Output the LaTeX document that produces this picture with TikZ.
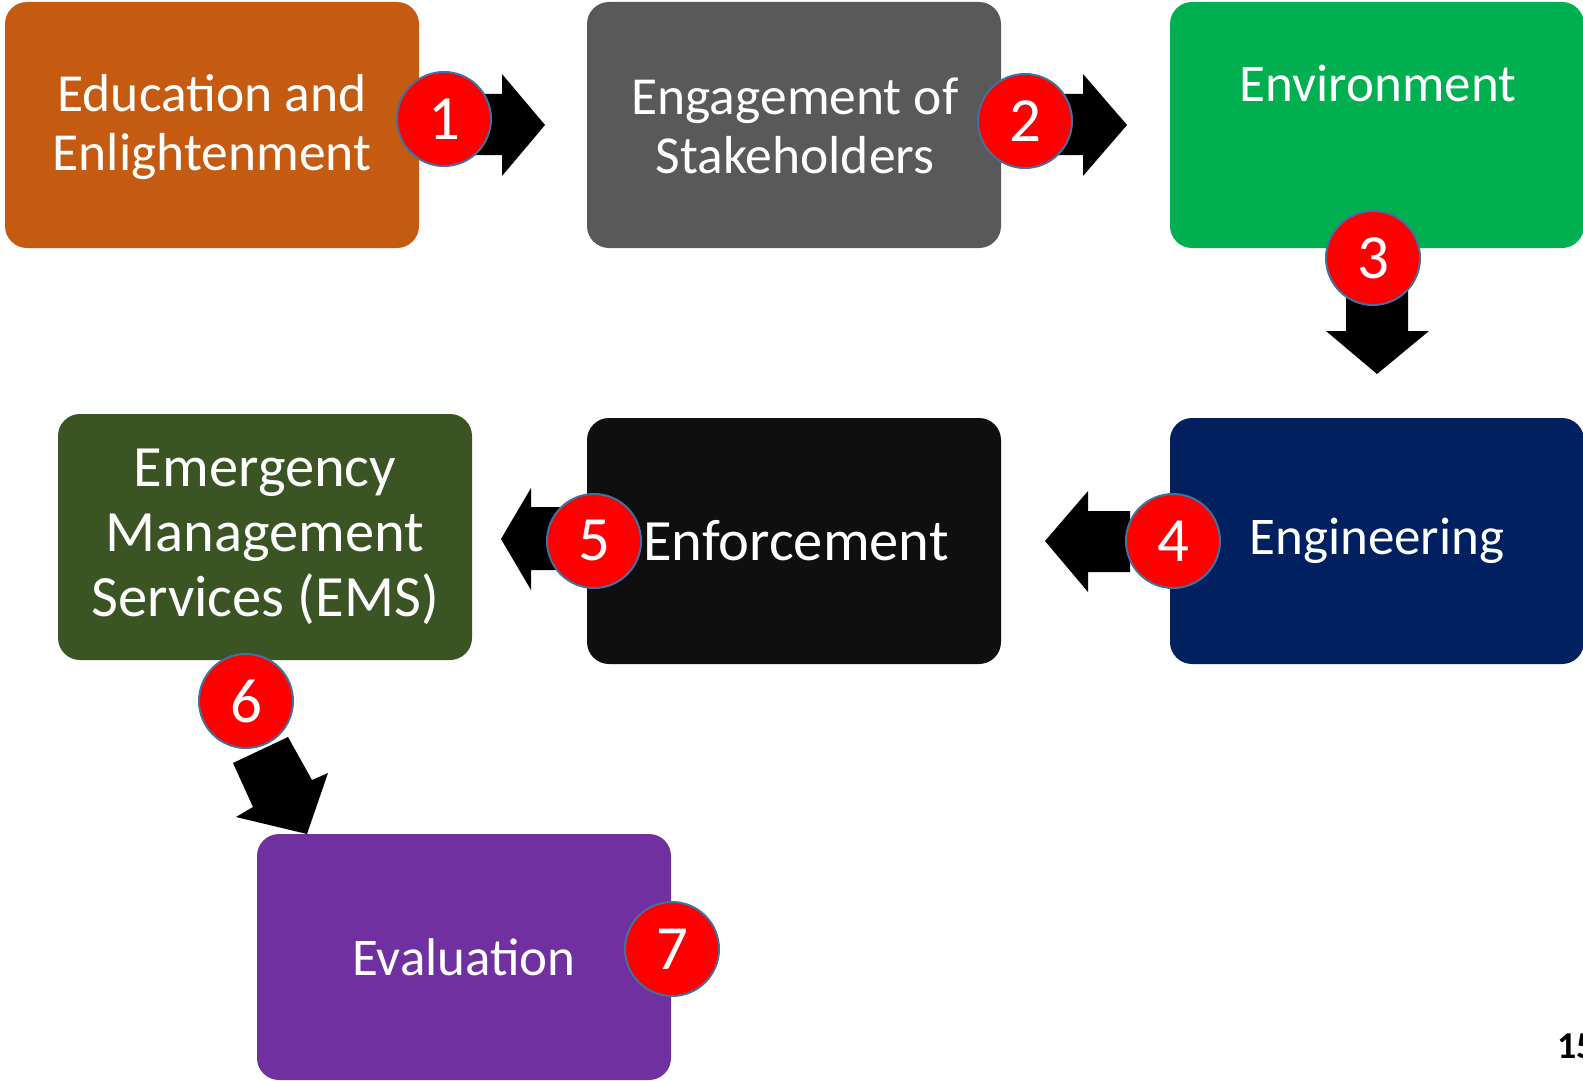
\documentclass[tikz,border=0pt]{standalone}
\usepackage{fontspec}
\setmainfont{Carlito}
\definecolor{cEdu}{HTML}{C55A11}
\definecolor{cEng}{HTML}{595959}
\definecolor{cEnv}{HTML}{00B050}
\definecolor{cEngi}{HTML}{002060}
\definecolor{cEnf}{HTML}{0F0F0F}
\definecolor{cEms}{HTML}{3A5523}
\definecolor{cEva}{HTML}{7030A0}
\definecolor{cRing}{HTML}{41719C}
\begin{document}
\begin{tikzpicture}[x=1pt,y=-1pt,
  box/.style={rounded corners=22pt, minimum width=414pt, minimum height=246pt, inner sep=0pt, text=white, align=center, font=\fontsize{53.5}{59}\selectfont},
  txt/.style={text=white, align=center, inner sep=0pt, font=\fontsize{53}{58}\selectfont},
  badge/.style={circle, fill=red, draw=cRing, line width=2pt, minimum size=94pt, inner sep=0pt, text=white, font=\fontsize{63}{63}\selectfont},
  blockarrow/.style={fill=black}]
\useasboundingbox (0,0) rectangle (1583,1081);
\clip (0,0) rectangle (1583,1081);
% boxes
\node[box, fill=cEdu] (b1) at (212,125) {};
\node[txt, font=\fontsize{53.5}{59}\selectfont] (t1) at (212,127) {Education and\\Enlightenment};
\node[box, fill=cEng] (b2) at (794,125) {};
\node[txt, font=\fontsize{53.5}{59}\selectfont] (t2) at (795,126) {Engagement of\\Stakeholders};
\node[box, fill=cEnv] (b3) at (1377,125) {};
\node[txt] (t3) at (1378,83) {Environment};
\node[box, fill=cEngi, font=\fontsize{53}{58}\selectfont] (b4) at (1377,541) {Engineering};
\node[box, fill=cEnf] (b5) at (794,541) {};
\node[txt, font=\fontsize{58.5}{64}\selectfont] (t5) at (796,541) {Enforcement};
\node[box, fill=cEms, font=\fontsize{58.5}{65}\selectfont] (b6) at (265,537) {Emergency\\Management\\Services (EMS)};
% arrows
\fill[blockarrow] (460,94) -- (502,94) -- (502,74) -- (545,125) -- (502,176) -- (502,155) -- (460,155) -- cycle;
\fill[blockarrow] (1041,94) -- (1083,94) -- (1083,74) -- (1127,125) -- (1083,176) -- (1083,155) -- (1041,155) -- cycle;
\fill[blockarrow] (1346,270) -- (1408,270) -- (1408,331) -- (1429,331) -- (1377,374) -- (1326,331) -- (1346,331) -- cycle;
\fill[blockarrow] (1130,511) -- (1088,511) -- (1088,491) -- (1045,541) -- (1088,592) -- (1088,572) -- (1130,572) -- cycle;
\fill[blockarrow] (570,507) -- (531,507) -- (531,488) -- (501,539) -- (531,590) -- (531,570) -- (570,570) -- cycle;
\fill[blockarrow] (233,763) -- (288,737) -- (312,780) -- (328,773) -- (307,834) -- (236,817) -- (253,807) -- cycle;
\node[box, fill=cEva, font=\fontsize{53}{58}\selectfont] (b7) at (464,957) {Evaluation};
% badges
\node[badge] (n1) at (444,119) {1};
\node[badge] (n2) at (1025,121) {2};
\node[badge] (n3) at (1373,258) {3};
\node[badge] (n4) at (1173,541) {4};
\node[badge] (n5) at (594,541) {5};
\node[badge] (n6) at (246,701) {6};
\node[badge] (n7) at (672,949) {7};
% page number (cut off at the right edge, as in the reference)
\node[anchor=base west, inner sep=0pt, font=\fontsize{38}{38}\selectfont\bfseries] (pg) at (1557,1058) {15};
\end{tikzpicture}
\end{document}
